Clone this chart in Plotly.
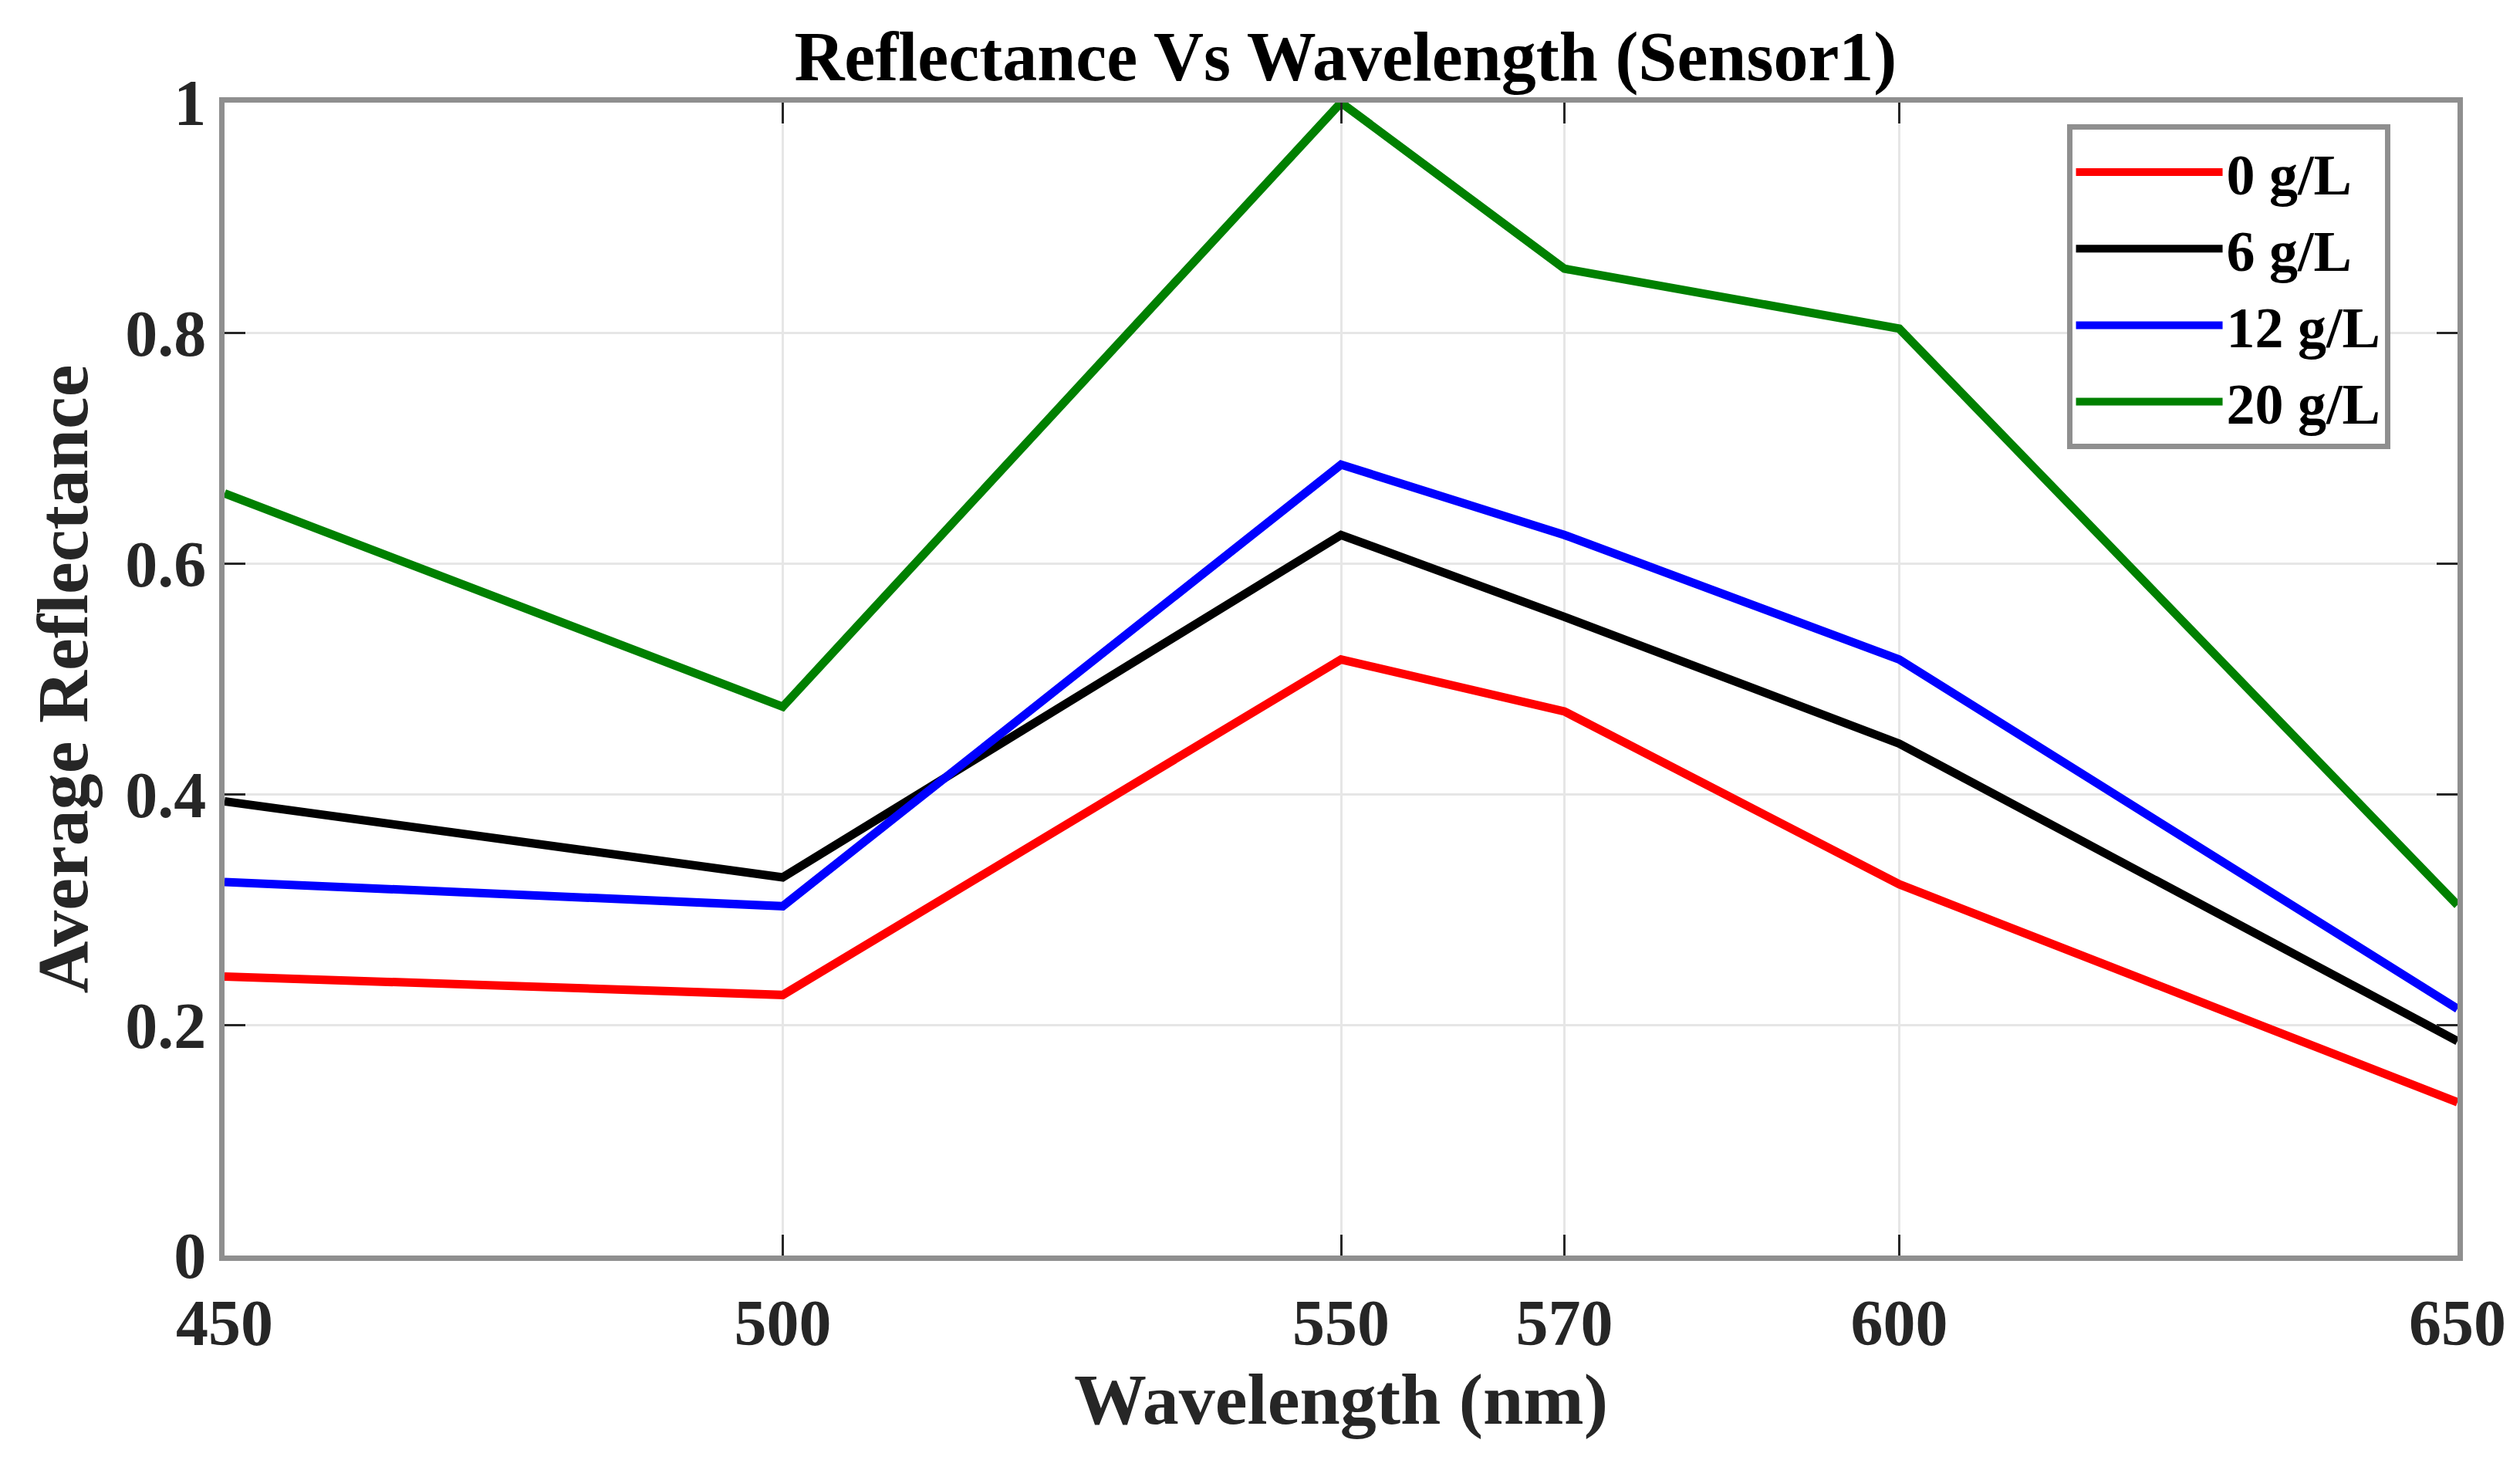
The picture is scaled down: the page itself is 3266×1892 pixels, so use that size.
import plotly.graph_objects as go

wavelength = [450, 500, 550, 570, 600, 650]
r_0gL = [0.242, 0.226, 0.517, 0.472, 0.322, 0.133]
r_6gL = [0.394, 0.328, 0.625, 0.554, 0.444, 0.186]
r_12gL = [0.324, 0.303, 0.686, 0.625, 0.517, 0.214]
r_20gL = [0.661, 0.476, 1.0, 0.856, 0.804, 0.304]
series_names = ["0 g/L", "6 g/L", "12 g/L", "20 g/L"]
series_colors = ["#ff0000", "#000000", "#0000ff", "#008000"]
x_ticks = [450, 500, 550, 570, 600, 650]
y_ticks = [0, 0.2, 0.4, 0.6, 0.8, 1]
y_tick_text = ["0", "0.2", "0.4", "0.6", "0.8", "1"]

FONT = "Liberation Serif"
fig = go.Figure()
for name, ys, col in zip(series_names, [r_0gL, r_6gL, r_12gL, r_20gL], series_colors):
    fig.add_trace(go.Scatter(x=wavelength, y=ys, mode="lines", name=name,
                             line=dict(color=col, width=11)))

axis_common = dict(
    showline=True, linecolor="#8f8f8f", linewidth=7, mirror="ticks",
    ticks="inside", ticklen=27, tickwidth=3, tickcolor="#262626",
    showgrid=True, gridcolor="#e6e6e6", gridwidth=3, zeroline=False,
    tickfont=dict(family=FONT, size=84, color="#262626", weight="bold"),
)
fig.update_xaxes(range=[450, 650], tickvals=x_ticks, ticklabelstandoff=8,
                 title=dict(text="Wavelength (nm)", font=dict(family=FONT, size=94, color="#262626", weight="bold"), standoff=14),
                 **axis_common)
fig.update_yaxes(range=[0, 1], tickvals=y_ticks, ticktext=y_tick_text,
                 title=dict(text="Average Reflectance", font=dict(family=FONT, size=94, color="#262626", weight="bold"), standoff=20),
                 **axis_common)

fig.update_layout(
    width=3266, height=1892,
    margin=dict(l=283, r=89, t=125, b=273),
    paper_bgcolor="white", plot_bgcolor="white",
    title=dict(text="Reflectance Vs Wavelength (Sensor1)", x=0.5315, xanchor="center",
               y=0.966, yanchor="middle",
               font=dict(family=FONT, size=90, color="black", weight="bold")),
    legend=dict(x=0.825, y=0.981, xanchor="left", yanchor="top",
                bgcolor="white", bordercolor="#8f8f8f", borderwidth=7,
                font=dict(family=FONT, size=74, color="black", weight="bold"),
                itemwidth=190),
    showlegend=True,
)
fig.write_html("out.html")
